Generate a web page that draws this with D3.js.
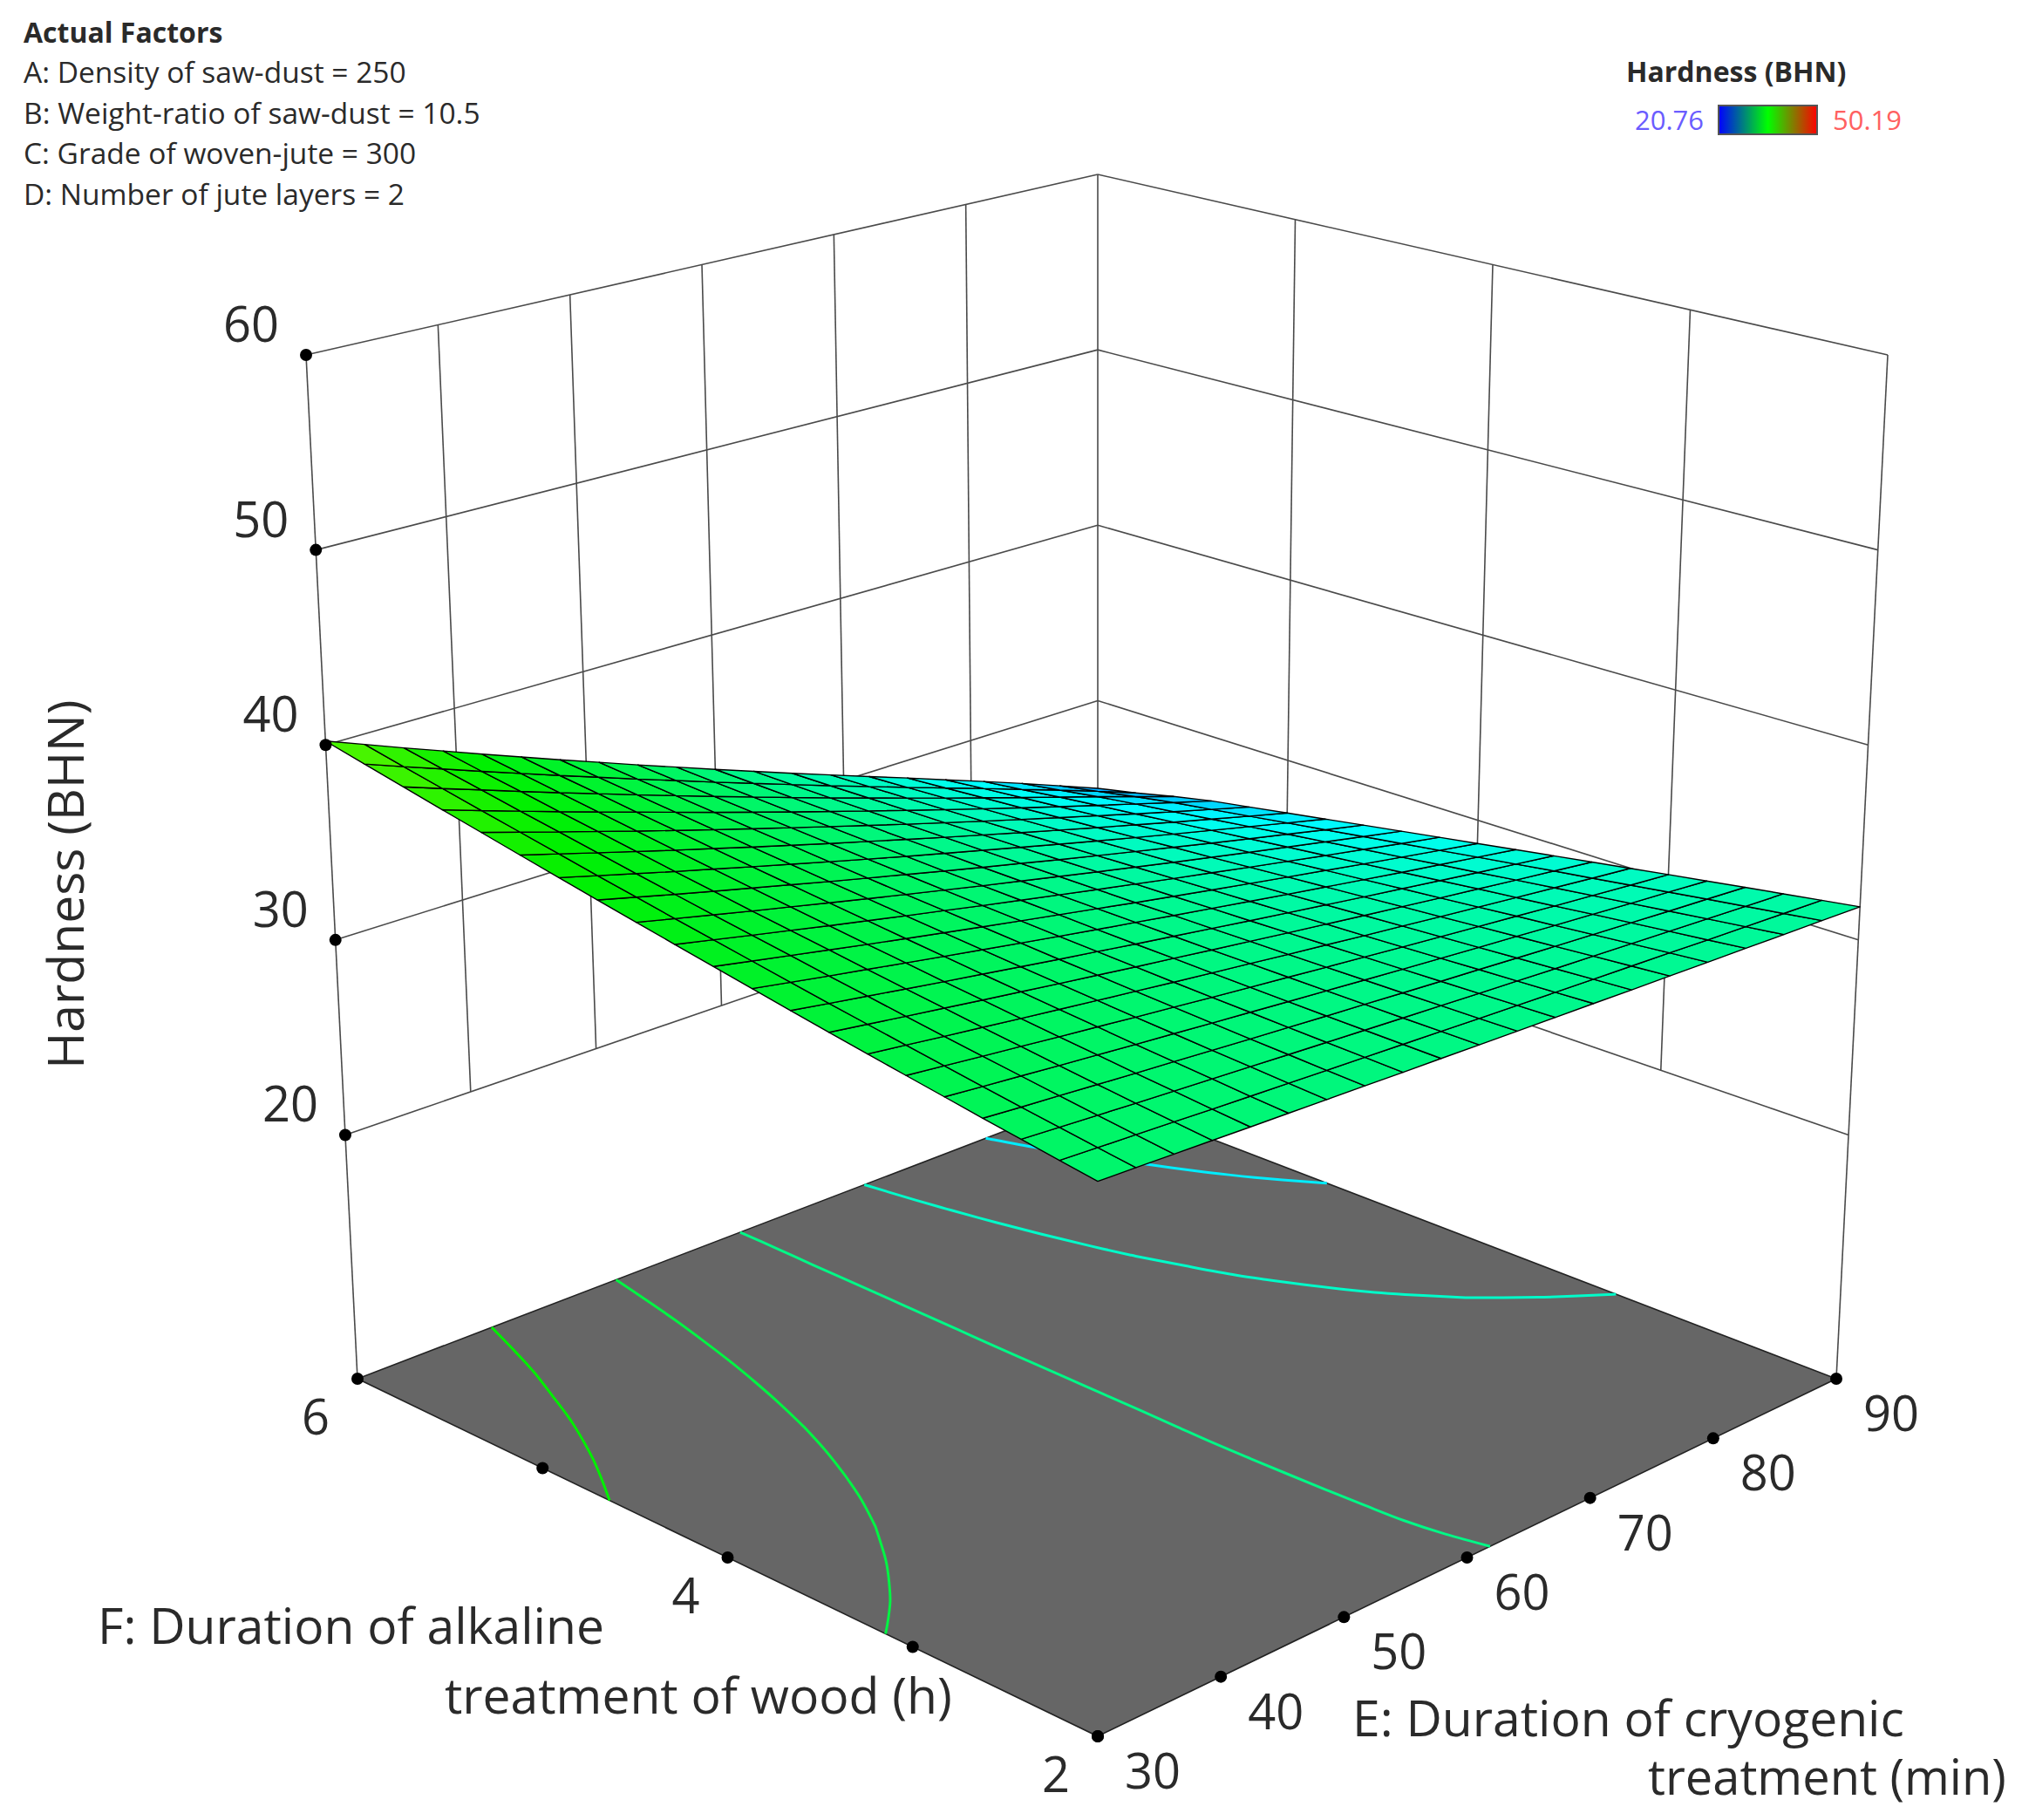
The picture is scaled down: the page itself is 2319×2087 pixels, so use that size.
<!doctype html>
<html lang="en">
  <head>
    <title>Hardness (BHN)</title>
    <meta charset="utf-8">
    <script src="https://cdnjs.cloudflare.com/ajax/libs/d3/7.8.5/d3.min.js"></script>
    <style>
      * {
        margin: 0;
        padding: 0;
      }

      body {
        background: #fff;
      }

      svg {
        display: block;
      }

      text {
        font-family: "Open Sans", sans-serif;
        fill: #2a2a2a;
      }
    </style>
  </head>
  <body>
    <svg id="chart" width="2319" height="2087"></svg>
    <script>
      var factorTitle = 'Actual Factors';
      var factorLines = [
        'A: Density of saw-dust = 250',
        'B: Weight-ratio of saw-dust = 10.5',
        'C: Grade of woven-jute = 300',
        'D: Number of jute layers = 2'
      ];

      var legendTitle = 'Hardness (BHN)';
      var legendRange = [20.76, 50.19];

      var eTicks = [30, 40, 50, 60, 70, 80, 90];
      var fTicks = [2, 3, 4, 5, 6];
      var fTickLabels = ['2', '', '4', '', '6'];
      var zTicks = [20, 30, 40, 50, 60];
      var contourLevels = [27.5, 30, 32.5, 35, 37.5];

      var zTitle = 'Hardness (BHN)';
      var eTitle = ['E: Duration of cryogenic', 'treatment (min)'];
      var fTitle = ['F: Duration of alkaline', 'treatment of wood (h)'];

      // one row per F step (2 to 6), one column per E step (30 to 90)
      var hardnessGrid = [
        [33.40,33.32,33.23,33.15,33.06,32.98,32.89,32.81,32.72,32.64,32.55,32.47,32.38,32.30,32.21,32.13,32.04,31.96,31.87,31.79,31.70],
        [33.66,33.55,33.44,33.33,33.21,33.10,32.99,32.88,32.77,32.66,32.55,32.43,32.32,32.21,32.10,31.99,31.88,31.76,31.65,31.54,31.43],
        [33.93,33.79,33.65,33.51,33.37,33.24,33.10,32.96,32.82,32.68,32.54,32.40,32.26,32.12,31.98,31.85,31.71,31.57,31.43,31.29,31.15],
        [34.20,34.03,33.87,33.70,33.53,33.37,33.20,33.03,32.87,32.70,32.54,32.37,32.20,32.04,31.87,31.70,31.54,31.37,31.20,31.04,30.87],
        [34.49,34.29,34.10,33.90,33.71,33.51,33.32,33.12,32.93,32.73,32.54,32.34,32.14,31.95,31.75,31.56,31.36,31.17,30.97,30.78,30.58],
        [34.78,34.56,34.33,34.11,33.88,33.66,33.43,33.21,32.98,32.76,32.54,32.31,32.09,31.86,31.64,31.41,31.19,30.96,30.74,30.51,30.29],
        [35.08,34.83,34.57,34.32,34.06,33.81,33.55,33.30,33.04,32.79,32.54,32.28,32.03,31.77,31.52,31.26,31.01,30.75,30.50,30.24,29.99],
        [35.39,35.11,34.82,34.54,34.25,33.97,33.68,33.40,33.11,32.83,32.54,32.26,31.97,31.69,31.40,31.12,30.83,30.55,30.26,29.98,29.69],
        [35.71,35.39,35.08,34.76,34.44,34.13,33.81,33.49,33.18,32.86,32.55,32.23,31.91,31.60,31.28,30.96,30.65,30.33,30.01,29.70,29.38],
        [36.04,35.69,35.34,35.00,34.65,34.30,33.95,33.60,33.25,32.90,32.56,32.21,31.86,31.51,31.16,30.81,30.46,30.11,29.77,29.42,29.07],
        [36.38,36.00,35.62,35.24,34.85,34.47,34.09,33.71,33.33,32.95,32.57,32.18,31.80,31.42,31.04,30.66,30.28,29.89,29.51,29.13,28.75],
        [36.72,36.31,35.89,35.48,35.06,34.65,34.23,33.82,33.40,32.99,32.58,32.16,31.75,31.33,30.92,30.50,30.09,29.67,29.26,28.84,28.43],
        [37.07,36.62,36.17,35.72,35.28,34.83,34.38,33.93,33.48,33.03,32.59,32.14,31.69,31.24,30.79,30.34,29.89,29.45,29.00,28.55,28.10],
        [37.43,36.95,36.46,35.98,35.50,35.02,34.53,34.05,33.57,33.08,32.60,32.12,31.63,31.15,30.67,30.19,29.70,29.22,28.74,28.25,27.77],
        [37.80,37.28,36.76,36.24,35.73,35.21,34.69,34.17,33.65,33.13,32.62,32.10,31.58,31.06,30.54,30.02,29.50,28.99,28.47,27.95,27.43],
        [38.18,37.63,37.07,36.52,35.96,35.41,34.85,34.30,33.74,33.19,32.64,32.08,31.53,30.97,30.42,29.86,29.31,28.75,28.20,27.64,27.09],
        [38.57,37.98,37.39,36.80,36.20,35.61,35.02,34.43,33.84,33.25,32.66,32.06,31.47,30.88,30.29,29.70,29.11,28.51,27.92,27.33,26.74],
        [38.96,38.33,37.70,37.07,36.45,35.82,35.19,34.56,33.93,33.30,32.68,32.05,31.42,30.79,30.16,29.53,28.90,28.28,27.65,27.02,26.39],
        [39.37,38.70,38.04,37.37,36.70,36.04,35.37,34.70,34.03,33.37,32.70,32.03,31.37,30.70,30.03,29.37,28.70,28.03,27.36,26.65,25.95],
        [39.78,39.07,38.37,37.66,36.96,36.25,35.55,34.84,34.14,33.43,32.73,32.02,31.31,30.61,29.90,29.20,28.49,27.75,27.02,26.25,25.45],
        [40.20,39.46,38.71,37.97,37.22,36.48,35.73,34.99,34.24,33.50,32.75,32.01,31.26,30.52,29.77,29.03,28.25,27.48,26.68,25.85,25.00]
      ];

      var svg = d3.select('#chart');

      // the box: floor sits at hardness 7.5, top at 60
      var eScale = d3.scaleLinear().domain([30, 90]).range([0, 1]);
      var fScale = d3.scaleLinear().domain([2, 6]).range([0, 1]);
      var zScale = d3.scaleLinear().domain([7.5, 60]).range([0, 1]);

      // screen x,y of the box corners
      var boxFloor = { front: [1259, 1991], right: [2106, 1581], left: [410, 1581], back: [1259, 1256] };
      var boxTop = { front: [1259, 701], right: [2165, 407], left: [351, 407], back: [1259, 200] };

      function lerp(a, b, t) {
        return a + (b - a) * t;
      }

      function cornerMix(box, u, v, i) {
        return lerp(lerp(box.front[i], box.right[i], u), lerp(box.left[i], box.back[i], u), v);
      }

      function project(e, f, z) {
        var u = eScale(e), v = fScale(f), w = zScale(z);
        return [
          lerp(cornerMix(boxFloor, u, v, 0), cornerMix(boxTop, u, v, 0), w),
          lerp(cornerMix(boxFloor, u, v, 1), cornerMix(boxTop, u, v, 1), w)
        ];
      }

      var gridE = d3.scaleLinear().domain([0, 20]).range([30, 90]);
      var gridF = d3.scaleLinear().domain([0, 20]).range([2, 6]);

      var colour = d3.scaleLinear()
        .domain([20.76, 28, 37.5, 45, 50.19])
        .range(['#0000ff', '#00ffff', '#00f000', '#ffff00', '#ff0000']);

      var line = d3.line();
      var curvedLine = d3.line().curve(d3.curveCatmullRom);
      var floorZ = zScale.domain()[0];
      var topZ = zScale.domain()[1];
      var lowZ = zTicks[0];

      function drawLine(a, b, width) {
        svg.append('path')
          .attr('d', line([a, b]))
          .attr('fill', 'none')
          .attr('stroke', '#4a4a4a')
          .attr('stroke-width', width || 1.6);
      }

      // walls
      zTicks.forEach(function(z) {
        drawLine(project(30, 6, z), project(90, 6, z));
        drawLine(project(90, 6, z), project(90, 2, z));
      });

      eTicks.slice(1, -1).forEach(function(e) {
        drawLine(project(e, 6, lowZ), project(e, 6, topZ));
      });

      fTicks.slice(1, -1).forEach(function(f) {
        drawLine(project(90, f, lowZ), project(90, f, topZ));
      });

      drawLine(project(30, 6, floorZ), project(30, 6, topZ));
      drawLine(project(90, 2, floorZ), project(90, 2, topZ));
      drawLine(project(90, 6, lowZ), project(90, 6, topZ));

      // floor
      svg.append('path')
        .attr('d', line([
          project(30, 2, floorZ),
          project(90, 2, floorZ),
          project(90, 6, floorZ),
          project(30, 6, floorZ)
        ]) + 'Z')
        .attr('fill', '#666666')
        .attr('stroke', '#222')
        .attr('stroke-width', 1.6);

      // contours on the floor, leaving out the parts that run along the grid edge
      var contours = d3.contours()
        .size([21, 21])
        .thresholds(contourLevels)(hardnessGrid.flat());

      function onEdge(p) {
        return p[0] === 0 || p[0] === 21 || p[1] === 0 || p[1] === 21;
      }

      function contourPoint(p) {
        return project(gridE(p[0] - 0.5), gridF(p[1] - 0.5), floorZ);
      }

      contours.forEach(function(c) {
        var segments = [];
        c.coordinates.forEach(function(polygon) {
          polygon.forEach(function(ring) {
            var current = null;
            d3.pairs(ring).forEach(function(pair) {
              if (onEdge(pair[0]) || onEdge(pair[1])) {
                current = null;
                return;
              }
              if (!current) {
                current = [contourPoint(pair[0])];
                segments.push(current);
              }
              current.push(contourPoint(pair[1]));
            });
          });
        });
        svg.selectAll(null)
          .data(segments)
          .enter()
          .append('path')
          .attr('d', curvedLine)
          .attr('fill', 'none')
          .attr('stroke', colour(c.value))
          .attr('stroke-width', 3);
      });

      // surface cells
      var cells = [];
      d3.range(20).forEach(function(j) {
        d3.range(20).forEach(function(i) {
          cells.push({ i: i, j: j });
        });
      });

      function surfacePoint(i, j) {
        return project(gridE(i), gridF(j), hardnessGrid[j][i]);
      }

      svg.selectAll('path.cell')
        .data(cells)
        .enter()
        .append('path')
        .attr('class', 'cell')
        .attr('d', function(d) {
          return line([
            surfacePoint(d.i, d.j),
            surfacePoint(d.i + 1, d.j),
            surfacePoint(d.i + 1, d.j + 1),
            surfacePoint(d.i, d.j + 1)
          ]) + 'Z';
        })
        .attr('fill', function(d) {
          return colour(d3.mean([
            hardnessGrid[d.j][d.i],
            hardnessGrid[d.j][d.i + 1],
            hardnessGrid[d.j + 1][d.i + 1],
            hardnessGrid[d.j + 1][d.i]
          ]));
        })
        .attr('stroke', '#000')
        .attr('stroke-width', 1.4)
        .attr('stroke-linejoin', 'round');

      // tick dots and labels
      var ticks = [];
      zTicks.forEach(function(z) {
        ticks.push({ p: project(30, 6, z), label: z, dx: -63, dy: -37 });
      });
      fTicks.forEach(function(f, i) {
        ticks.push({ p: project(30, f, floorZ), label: fTickLabels[i], dx: -48, dy: 42 });
      });
      eTicks.forEach(function(e) {
        ticks.push({ p: project(e, 2, floorZ), label: e, dx: 63, dy: 38 });
      });

      svg.selectAll('circle.tick')
        .data(ticks)
        .enter()
        .append('circle')
        .attr('class', 'tick')
        .attr('cx', function(d) { return d.p[0]; })
        .attr('cy', function(d) { return d.p[1]; })
        .attr('r', 7)
        .attr('fill', '#000');

      svg.selectAll('text.tick')
        .data(ticks)
        .enter()
        .append('text')
        .attr('class', 'tick')
        .attr('x', function(d) { return d.p[0] + d.dx; })
        .attr('y', function(d) { return d.p[1] + d.dy; })
        .attr('text-anchor', 'middle')
        .attr('dominant-baseline', 'central')
        .attr('font-size', 56)
        .text(function(d) { return d.label; });

      // axis titles
      svg.append('text')
        .attr('transform', 'translate(74,1014) rotate(-90)')
        .attr('text-anchor', 'middle')
        .attr('dominant-baseline', 'central')
        .attr('font-size', 57)
        .text(zTitle);

      svg.append('text').attr('x', 112).attr('y', 1863)
        .attr('dominant-baseline', 'central').attr('font-size', 57).text(fTitle[0]);
      svg.append('text').attr('x', 510).attr('y', 1943)
        .attr('dominant-baseline', 'central').attr('font-size', 57).text(fTitle[1]);
      svg.append('text').attr('x', 1551).attr('y', 1969)
        .attr('dominant-baseline', 'central').attr('font-size', 57).text(eTitle[0]);
      svg.append('text').attr('x', 1890).attr('y', 2036)
        .attr('dominant-baseline', 'central').attr('font-size', 56).text(eTitle[1]);

      // factor block
      svg.append('text').attr('x', 27).attr('y', 36)
        .attr('dominant-baseline', 'central')
        .attr('font-size', 32).attr('font-weight', 700).attr('fill', '#111')
        .text(factorTitle);

      svg.selectAll('text.factor')
        .data(factorLines)
        .enter()
        .append('text')
        .attr('class', 'factor')
        .attr('x', 27)
        .attr('y', function(d, i) { return 82 + i * 46.5; })
        .attr('dominant-baseline', 'central')
        .attr('font-size', 33.5)
        .text(function(d) { return d; });

      // legend
      var gradient = svg.append('defs').append('linearGradient').attr('id', 'legend-ramp');
      gradient.selectAll('stop')
        .data(['#0000ff', '#00ff00', '#ff0000'])
        .enter()
        .append('stop')
        .attr('offset', function(d, i) { return i / 2; })
        .attr('stop-color', function(d) { return d; });

      svg.append('rect')
        .attr('x', 1971).attr('y', 121)
        .attr('width', 113).attr('height', 33)
        .attr('fill', 'url(#legend-ramp)')
        .attr('stroke', '#555')
        .attr('stroke-width', 2);

      svg.append('text').attr('x', 1865).attr('y', 81)
        .attr('dominant-baseline', 'central')
        .attr('font-size', 32).attr('font-weight', 700).attr('fill', '#111')
        .text(legendTitle);

      svg.append('text').attr('x', 1875).attr('y', 137)
        .attr('dominant-baseline', 'central')
        .attr('font-size', 31).style('fill', '#6a5cff')
        .text(legendRange[0]);

      svg.append('text').attr('x', 2102).attr('y', 137)
        .attr('dominant-baseline', 'central')
        .attr('font-size', 31).style('fill', '#ff6060')
        .text(legendRange[1]);
    </script>
  </body>
</html>
